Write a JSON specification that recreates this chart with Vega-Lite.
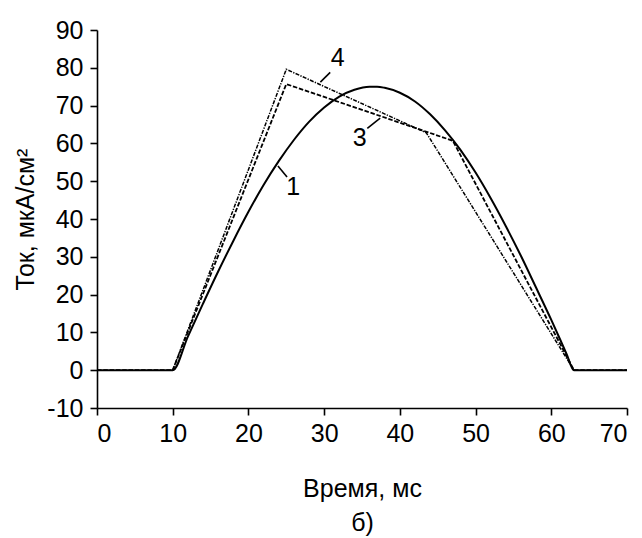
{
  "$schema": "https://vega.github.io/schema/vega-lite/v6.json",
  "width": 530,
  "height": 378,
  "autosize": {"type": "none"},
  "padding": {"left": 97, "top": 30, "right": 15, "bottom": 130},
  "background": "white",
  "config": {
    "view": {"stroke": null},
    "font": "Liberation Sans",
    "axis": {"grid": false, "domainColor": "black", "domainWidth": 1.6, "tickColor": "black", "tickWidth": 1.6, "tickSize": 7, "labelColor": "black", "labelFontSize": 25, "labelFont": "Liberation Sans", "labelOverlap": false, "titleFont": "Liberation Sans", "titleFontSize": 25, "titleFontWeight": "normal", "titleColor": "black"}
  },
  "datasets": {
    "c1": [
      {"x": 0, "y": 0}, {"x": 10, "y": 0}, {"x": 12, "y": 8.9}, {"x": 14, "y": 17.6}, {"x": 16, "y": 26.1}, {"x": 18, "y": 34.2}, {"x": 20, "y": 41.9}, {"x": 22, "y": 49.0}, {"x": 24, "y": 55.3}, {"x": 26, "y": 60.9}, {"x": 28, "y": 65.7}, {"x": 30, "y": 69.5}, {"x": 32, "y": 72.4}, {"x": 34, "y": 74.2}, {"x": 36, "y": 75.0}, {"x": 37, "y": 75.0}, {"x": 38, "y": 74.7}, {"x": 40, "y": 73.4}, {"x": 42, "y": 71.1}, {"x": 44, "y": 67.7}, {"x": 46, "y": 63.4}, {"x": 48, "y": 58.3}, {"x": 50, "y": 52.3}, {"x": 52, "y": 45.5}, {"x": 54, "y": 38.1}, {"x": 56, "y": 30.2}, {"x": 58, "y": 21.8}, {"x": 60, "y": 13.3}, {"x": 62, "y": 4.4}, {"x": 63, "y": 0}, {"x": 70, "y": 0}
    ],
    "c3": [
      {"x": 0, "y": 0}, {"x": 10, "y": 0}, {"x": 25, "y": 75.7}, {"x": 47, "y": 60.7}, {"x": 63, "y": 0}, {"x": 70, "y": 0}
    ],
    "c4": [
      {"x": 10, "y": 0}, {"x": 25, "y": 79.6}, {"x": 43.5, "y": 62.8}, {"x": 63, "y": 0}
    ],
    "labels": [
      {"x": 25.9, "y": 48.4, "t": "1"}, {"x": 34.7, "y": 61.4, "t": "3"}, {"x": 31.8, "y": 82.5, "t": "4"}
    ],
    "leaders": [
      {"x": 23.9, "y": 54.0, "x2": 25.1, "y2": 51.1},
      {"x": 37.4, "y": 66.7, "x2": 35.7, "y2": 64.0},
      {"x": 30.8, "y": 78.8, "x2": 29.5, "y2": 76.2}
    ]
  },
  "encoding": {
    "x": {"field": "x", "type": "quantitative", "scale": {"domain": [0, 70], "nice": false}, "axis": {"values": [0, 10, 20, 30, 40, 50, 60, 70], "labelOverlap": false, "labelPadding": 6, "title": ["Время, мс", "б)"], "titleLineHeight": 34, "titlePadding": 30}},
    "y": {"field": "y", "type": "quantitative", "scale": {"domain": [-10, 90], "nice": false}, "axis": {"values": [-10, 0, 10, 20, 30, 40, 50, 60, 70, 80, 90], "labelOverlap": false, "labelSeparation": -20, "labelExpr": "'' + datum.value", "labelPadding": 7, "title": "Ток, мкА/см²", "titlePadding": 8}}
  },
  "layer": [
    {
      "data": {"name": "c4"},
      "mark": {"type": "line", "color": "black", "strokeWidth": 1.5, "strokeDash": [4, 1.3, 1.3, 1.3]}
    },
    {
      "data": {"name": "c3"},
      "mark": {"type": "line", "color": "black", "strokeWidth": 1.8, "strokeDash": [4.5, 1.8]}
    },
    {
      "data": {"name": "c1"},
      "mark": {"type": "line", "color": "black", "strokeWidth": 2, "interpolate": "monotone"}
    },
    {
      "data": {"name": "leaders"},
      "mark": {"type": "rule", "color": "black", "strokeWidth": 1.6},
      "encoding": {"x2": {"field": "x2"}, "y2": {"field": "y2"}}
    },
    {
      "data": {"name": "labels"},
      "mark": {"type": "text", "fontSize": 25, "color": "black", "baseline": "middle", "align": "center"},
      "encoding": {"text": {"field": "t"}}
    }
  ]
}
